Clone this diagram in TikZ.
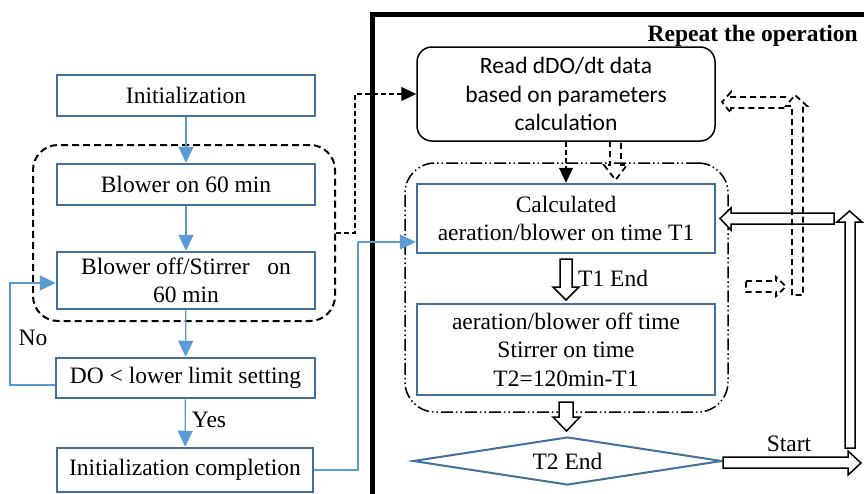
\documentclass[tikz,border=0pt]{standalone}
\usepackage{fontspec}
\setmainfont{Liberation Serif}
\newfontfamily\carlitofont{Carlito}
\usetikzlibrary{arrows.meta,shapes.geometric,calc}
\definecolor{boxblue}{RGB}{65,113,156}
\definecolor{arrblue}{RGB}{91,155,213}
\newcommand\bigtxt{\fontsize{23.5pt}{28.5pt}\selectfont}
\begin{document}
\begin{tikzpicture}[x=1pt,y=-1pt,
  bluebox/.style={draw=boxblue,line width=2.5pt,inner sep=0pt,align=center,font=\bigtxt},
  blarrow/.style={draw=arrblue,line width=1.3pt,-{Triangle[length=16pt,width=15pt]}},
  blline/.style={draw=arrblue,line width=1.3pt},
  dasharrow/.style={draw=black,line width=1.2pt,dash pattern=on 5pt off 3pt,-{Triangle[length=15pt,width=14pt,sep=0pt]}},
  hollow/.style={draw=black,line width=1.5pt,fill=white,line join=miter},
  dhollow/.style={draw=black,line width=1.8pt,dash pattern=on 6pt off 4pt},
  lbl/.style={font=\bigtxt,inner sep=0pt}
]
\useasboundingbox (0,0) rectangle (864,493);
\fill[white] (0,0) rectangle (864,493);

% left group
\node[draw=black,line width=2pt,dash pattern=on 7pt off 4pt,rounded corners=25pt,minimum width=302pt,minimum height=176pt,inner sep=0pt] (lg) at (184,233) {};
\node[bluebox,minimum width=258pt,minimum height=41pt] (init) at (186,95.5) {Initialization};
\node[bluebox,minimum width=258pt,minimum height=41pt] (bon) at (186,184.5) {Blower on 60 min};
\node[bluebox,minimum width=258pt,minimum height=57pt] (boff) at (186,280.5) {Blower off/Stirrer\ \ \ on\\60 min};
\node[bluebox,minimum width=259pt,minimum height=40pt] (do) at (185.5,378) {DO < lower limit setting};
\node[bluebox,minimum width=256pt,minimum height=44pt] (comp) at (185,470) {Initialization completion};

\draw[blarrow] (init) -- (bon);
\draw[blarrow] (bon) -- (boff);
\draw[blarrow] (boff) -- (do);
\draw[blarrow] (do) -- (comp);
\draw[blarrow] ([yshift=-7pt]do.west) -- (10,385) |- ([yshift=-2.5pt]boff.west);
\node[lbl] (no) at (33,338) {No};
\node[lbl] (yes) at (209,420) {Yes};

% thick frame
\draw[line width=5pt] (372.5,500) -- (372.5,14.5) -- (870,14.5);
\node[font=\bigtxt\bfseries,inner sep=0pt,anchor=base east] (rep) at (858,41) {Repeat the operation};

% right group
\node[draw=black,line width=1.5pt,dash pattern=on 12pt off 3pt on 1.5pt off 3pt on 1.5pt off 3pt,rounded corners=30pt,minimum width=323pt,minimum height=249pt,inner sep=0pt] (rg) at (566.5,287.5) {};
\node[draw=black,line width=1.5pt,rounded corners=15pt,minimum width=298pt,minimum height=94pt,inner sep=0pt,align=center,font=\carlitofont\bigtxt] (read) at (566,94) {Read dDO/dt data\\based on parameters\\calculation};
\node[bluebox,minimum width=298pt,minimum height=69pt] (calc) at (566,218.5) {Calculated\\aeration/blower on time T1};
\node[bluebox,minimum width=298pt,minimum height=91pt] (aoff) at (566,349.5) {aeration/blower off time\\Stirrer on time\\T2=120min-T1};
\node[diamond,draw=boxblue,line width=2pt,aspect=6,minimum width=309pt,minimum height=48pt,inner sep=0pt,font=\bigtxt] (t2) at (567.5,461) {T2 End};

% connectors
\draw[blline] (comp.east) -| (358,242);
\draw[blarrow] (358,242) -- ([yshift=-23.5pt]calc.west);
\draw[dasharrow] (lg.east) -- (355,233) |- (read.west);
\draw[dasharrow] (read.south) -- (calc.north);

% hollow block arrows
\draw[hollow] (560,259) -- (572,259) -- (572,287) -- (579,287) -- (566,300) -- (553,287) -- (560,287) -- cycle;
\node[lbl,anchor=base west] (t1end) at (578,286) {T1 End};
\draw[hollow] (559,402) -- (573,402) -- (573,417) -- (580,417) -- (566.5,431) -- (553,417) -- (559,417) -- cycle;
\draw[hollow] (723,457) -- (848,457) -- (848,451) -- (861,463) -- (848,475) -- (848,468) -- (723,468) -- cycle;
\node[lbl,anchor=base] (start) at (789,451) {Start};
\draw[hollow] (845,448) -- (845,222) -- (837,222) -- (849.5,211) -- (862,222) -- (855,222) -- (855,448) -- cycle;
\draw[hollow] (834,213) -- (731,213) -- (731,208) -- (720,218.5) -- (731,230) -- (731,224) -- (834,224) -- cycle;

% dashed hollow arrows
\draw[dhollow] (610,141) -- (610,165) -- (604,165) -- (615.5,180) -- (627,165) -- (621,165) -- (621,141);
\draw[dhollow] (746,281) -- (776,281) -- (776,277) -- (786,286.5) -- (776,296) -- (776,292) -- (746,292) -- cycle;
\draw[dhollow] (792,295) -- (792,106) -- (786,106) -- (795,95) -- (807,106) -- (803,106) -- (803,295) -- cycle;
\draw[dhollow] (786,97) -- (731,97) -- (731,92) -- (722,102) -- (731,113) -- (731,108) -- (786,108);
\end{tikzpicture}
\end{document}
